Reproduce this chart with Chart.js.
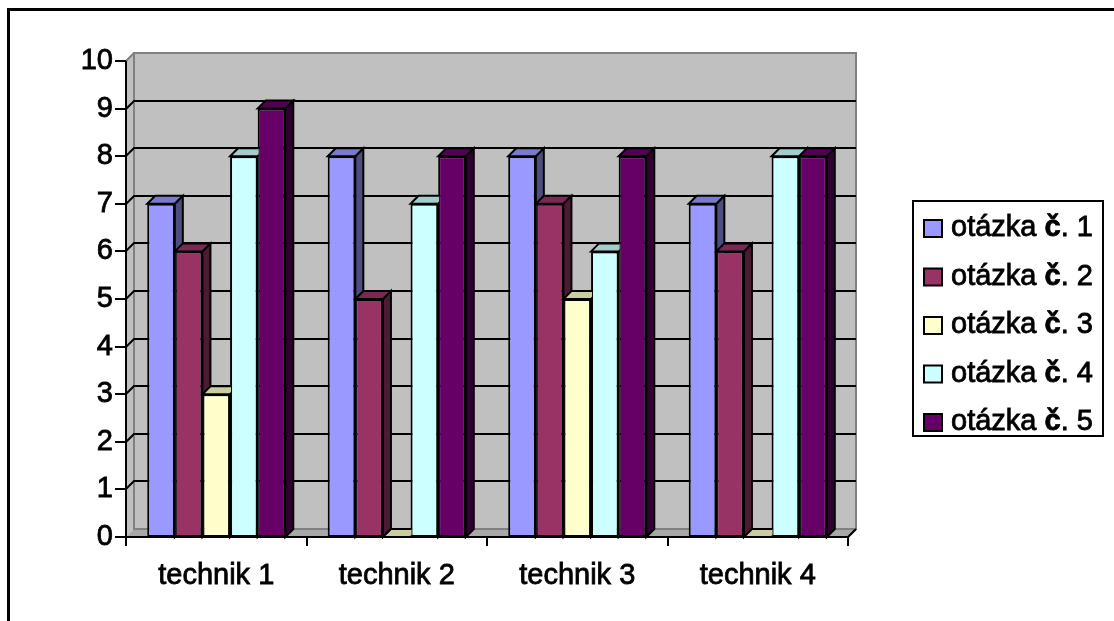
<!DOCTYPE html>
<html>
<head>
<meta charset="utf-8">
<script src="https://cdn.jsdelivr.net/npm/chart.js@4"></script>
<style>
  html, body { margin: 0; padding: 0; background: #ffffff; }
  #wrap { width: 1114px; height: 621px; position: relative; }
</style>
</head>
<body>
<div id="wrap"><canvas id="chart" width="1114" height="621"></canvas></div>
<script>
// Categories and values per question
const categories = ['technik 1', 'technik 2', 'technik 3', 'technik 4'];
const otazka1 = [7, 8, 8, 7];
const otazka2 = [6, 5, 7, 6];
const otazka3 = [3, 0, 5, 0];
const otazka4 = [8, 7, 6, 8];
const otazka5 = [9, 8, 8, 8];
const seriesNames = ['otázka č. 1', 'otázka č. 2', 'otázka č. 3', 'otázka č. 4', 'otázka č. 5'];
const yTicks = [0, 1, 2, 3, 4, 5, 6, 7, 8, 9, 10];

// front / top / side face colours of each series
const faceFront = ['#9999FF', '#993366', '#FFFFCC', '#CCFFFF', '#660066'];
const faceTop   = ['#7A7ACC', '#7A2952', '#CCCCA3', '#A3CCCC', '#520052'];
const faceSide  = ['#4D4D80', '#4D1A33', '#808066', '#668080', '#330033'];

const FONT = '"Liberation Sans", Arial, sans-serif';
const FONT_SIZE = 29;
const TEXT_STROKE = 0.8;
const DEPTH = 8;

const seriesValues = [otazka1, otazka2, otazka3, otazka4, otazka5];

// walls, floor and gridlines of the 3D plot box
const wallsPlugin = {
  id: 'walls',
  beforeDatasetsDraw(chart) {
    const ctx = chart.ctx;
    const { left: L, right: R, top: T, bottom: B } = chart.chartArea;
    const y = chart.scales.y;
    const d = DEPTH;
    ctx.save();
    ctx.lineJoin = 'miter';
    // back wall
    ctx.fillStyle = '#C0C0C0';
    ctx.fillRect(L + d, T - d, R - L, B - T);
    // left side wall
    ctx.beginPath();
    ctx.moveTo(L, T); ctx.lineTo(L + d, T - d); ctx.lineTo(L + d, B - d); ctx.lineTo(L, B);
    ctx.closePath();
    ctx.fillStyle = '#C0C0C0';
    ctx.fill();
    // floor
    ctx.beginPath();
    ctx.moveTo(L, B); ctx.lineTo(L + d, B - d); ctx.lineTo(R + d, B - d); ctx.lineTo(R, B);
    ctx.closePath();
    ctx.fillStyle = '#A8A8A8';
    ctx.fill();
    // wall edges
    ctx.strokeStyle = '#808080';
    ctx.lineWidth = 2;
    ctx.strokeRect(L + d, T - d, R - L, B - T);
    ctx.beginPath();
    ctx.moveTo(L, T); ctx.lineTo(L + d, T - d);
    ctx.moveTo(R, B); ctx.lineTo(R + d, B - d);
    ctx.stroke();
    // gridlines on the side wall and back wall
    ctx.strokeStyle = '#000000';
    ctx.lineWidth = 2;
    yTicks.forEach(v => {
      if (v === 0 || v === yTicks[yTicks.length - 1]) return;
      const py = Math.round(y.getPixelForValue(v));
      ctx.beginPath();
      ctx.moveTo(L, py);
      ctx.lineTo(L + d, py - d);
      ctx.lineTo(R + d, py - d);
      ctx.stroke();
    });
    ctx.restore();
  },
  afterDatasetsDraw(chart) {
    // top and side faces of each column, left to right within each group
    const ctx = chart.ctx;
    const d = DEPTH;
    const metas = chart.getSortedVisibleDatasetMetas().slice().sort((a, b) => a.index - b.index);
    const nCat = categories.length;
    for (let c = 0; c < nCat; c++) {
      const bars = metas.map(m => m.data[c].getProps(['x', 'y', 'base', 'width'], true));
      bars.forEach((b, i) => {
        const l = b.x - b.width / 2, r = b.x + b.width / 2;
        const top = Math.min(b.y, b.base), base = Math.max(b.y, b.base);
        ctx.save();
        // the next column's front face hides what lies behind it
        if (i < bars.length - 1) {
          const n = bars[i + 1];
          const nl = n.x - n.width / 2;
          const nt = Math.min(n.y, n.base), nb = Math.max(n.y, n.base);
          ctx.beginPath();
          ctx.rect(0, 0, chart.width, chart.height);
          ctx.rect(nl + 1, nt + 1, n.width - 1, nb - nt);
          ctx.clip('evenodd');
        }
        ctx.lineWidth = 2;
        ctx.strokeStyle = '#000000';
        ctx.lineJoin = 'miter';
        // side face
        ctx.beginPath();
        ctx.moveTo(r, top); ctx.lineTo(r + d, top - d); ctx.lineTo(r + d, base - d); ctx.lineTo(r, base);
        ctx.closePath();
        ctx.fillStyle = faceSide[i];
        ctx.fill(); ctx.stroke();
        // top face
        ctx.beginPath();
        ctx.moveTo(l, top); ctx.lineTo(r, top); ctx.lineTo(r + d, top - d); ctx.lineTo(l + d, top - d);
        ctx.closePath();
        ctx.fillStyle = faceTop[i];
        ctx.fill(); ctx.stroke();
        ctx.restore();
      });
    }
  },
  afterDraw(chart) {
    const ctx = chart.ctx;
    const { left: L, right: R, top: T, bottom: B } = chart.chartArea;
    const y = chart.scales.y;
    const d = DEPTH;
    ctx.save();
    ctx.strokeStyle = '#000000';
    ctx.lineWidth = 2;
    // value axis with its ticks
    ctx.beginPath();
    ctx.moveTo(L, T); ctx.lineTo(L, B + 1);
    yTicks.forEach(v => {
      const py = Math.round(y.getPixelForValue(v));
      ctx.moveTo(L - 11, py); ctx.lineTo(L, py);
    });
    // category axis with boundary ticks
    ctx.moveTo(L - 1, B); ctx.lineTo(R, B); ctx.lineTo(R + d, B - d);
    const step = (R - L) / categories.length;
    for (let k = 0; k <= categories.length; k++) {
      const px = Math.round(L + k * step);
      ctx.moveTo(px, B); ctx.lineTo(px, B + 9);
    }
    ctx.stroke();

    // legend box
    const lx = 913, ly = 201, lw = 190, lh = 235;
    ctx.fillStyle = '#ffffff';
    ctx.fillRect(lx, ly, lw, lh);
    ctx.strokeRect(lx, ly, lw, lh);
    ctx.textBaseline = 'middle';
    const drawText = (t, x, yy) => {
      ctx.fillText(t, x, yy);
      ctx.lineWidth = TEXT_STROKE;
      ctx.strokeText(t, x, yy);
      ctx.lineWidth = 2;
    };
    chart.data.datasets.forEach((ds, i) => {
      const cy = 228 + i * 48.5;
      ctx.fillStyle = ds.backgroundColor;
      ctx.fillRect(924, cy - 8, 18, 17);
      ctx.strokeRect(924, cy - 8, 18, 17);
      // label with the bold "č"
      const parts = ds.label.split('č');
      let tx = 951;
      ctx.fillStyle = '#000000';
      ctx.font = FONT_SIZE + 'px ' + FONT;
      drawText(parts[0], tx, cy);
      tx += ctx.measureText(parts[0]).width;
      ctx.font = 'bold ' + FONT_SIZE + 'px ' + FONT;
      drawText('č', tx, cy);
      tx += ctx.measureText('č').width;
      ctx.font = FONT_SIZE + 'px ' + FONT;
      drawText(parts[1], tx, cy);
    });

    // outer frame
    ctx.lineWidth = 3;
    ctx.beginPath();
    ctx.moveTo(8.5, chart.height); ctx.lineTo(8.5, 9.5); ctx.lineTo(chart.width, 9.5);
    ctx.stroke();
    ctx.restore();
  }
};

new Chart(document.getElementById('chart'), {
  type: 'bar',
  data: {
    labels: categories,
    datasets: seriesValues.map((vals, i) => ({
      label: seriesNames[i],
      data: vals,
      backgroundColor: faceFront[i],
      borderColor: '#000000',
      borderWidth: 2,
      borderSkipped: false,
      categoryPercentage: 0.765,
      barPercentage: 1.0
    }))
  },
  options: {
    responsive: false,
    animation: false,
    events: [],
    layout: { padding: { top: 61, right: 266, left: 0, bottom: 0 } },
    plugins: { legend: { display: false }, tooltip: { enabled: false } },
    scales: {
      x: {
        grid: { display: false, tickLength: 8 },
        border: { display: false },
        ticks: {
          color: '#000000', font: { family: FONT, size: FONT_SIZE }, padding: 14, maxRotation: 0,
          textStrokeColor: '#000000', textStrokeWidth: TEXT_STROKE
        },
        afterFit: s => { s.height = 84; }
      },
      y: {
        min: 0, max: 10,
        grid: { display: false, tickLength: 11 },
        border: { display: false },
        ticks: {
          stepSize: 1, color: '#000000', font: { family: FONT, size: FONT_SIZE }, padding: 2,
          textStrokeColor: '#000000', textStrokeWidth: TEXT_STROKE
        },
        afterFit: s => { s.width = 126; }
      }
    }
  },
  plugins: [wallsPlugin]
});
</script>
</body>
</html>
